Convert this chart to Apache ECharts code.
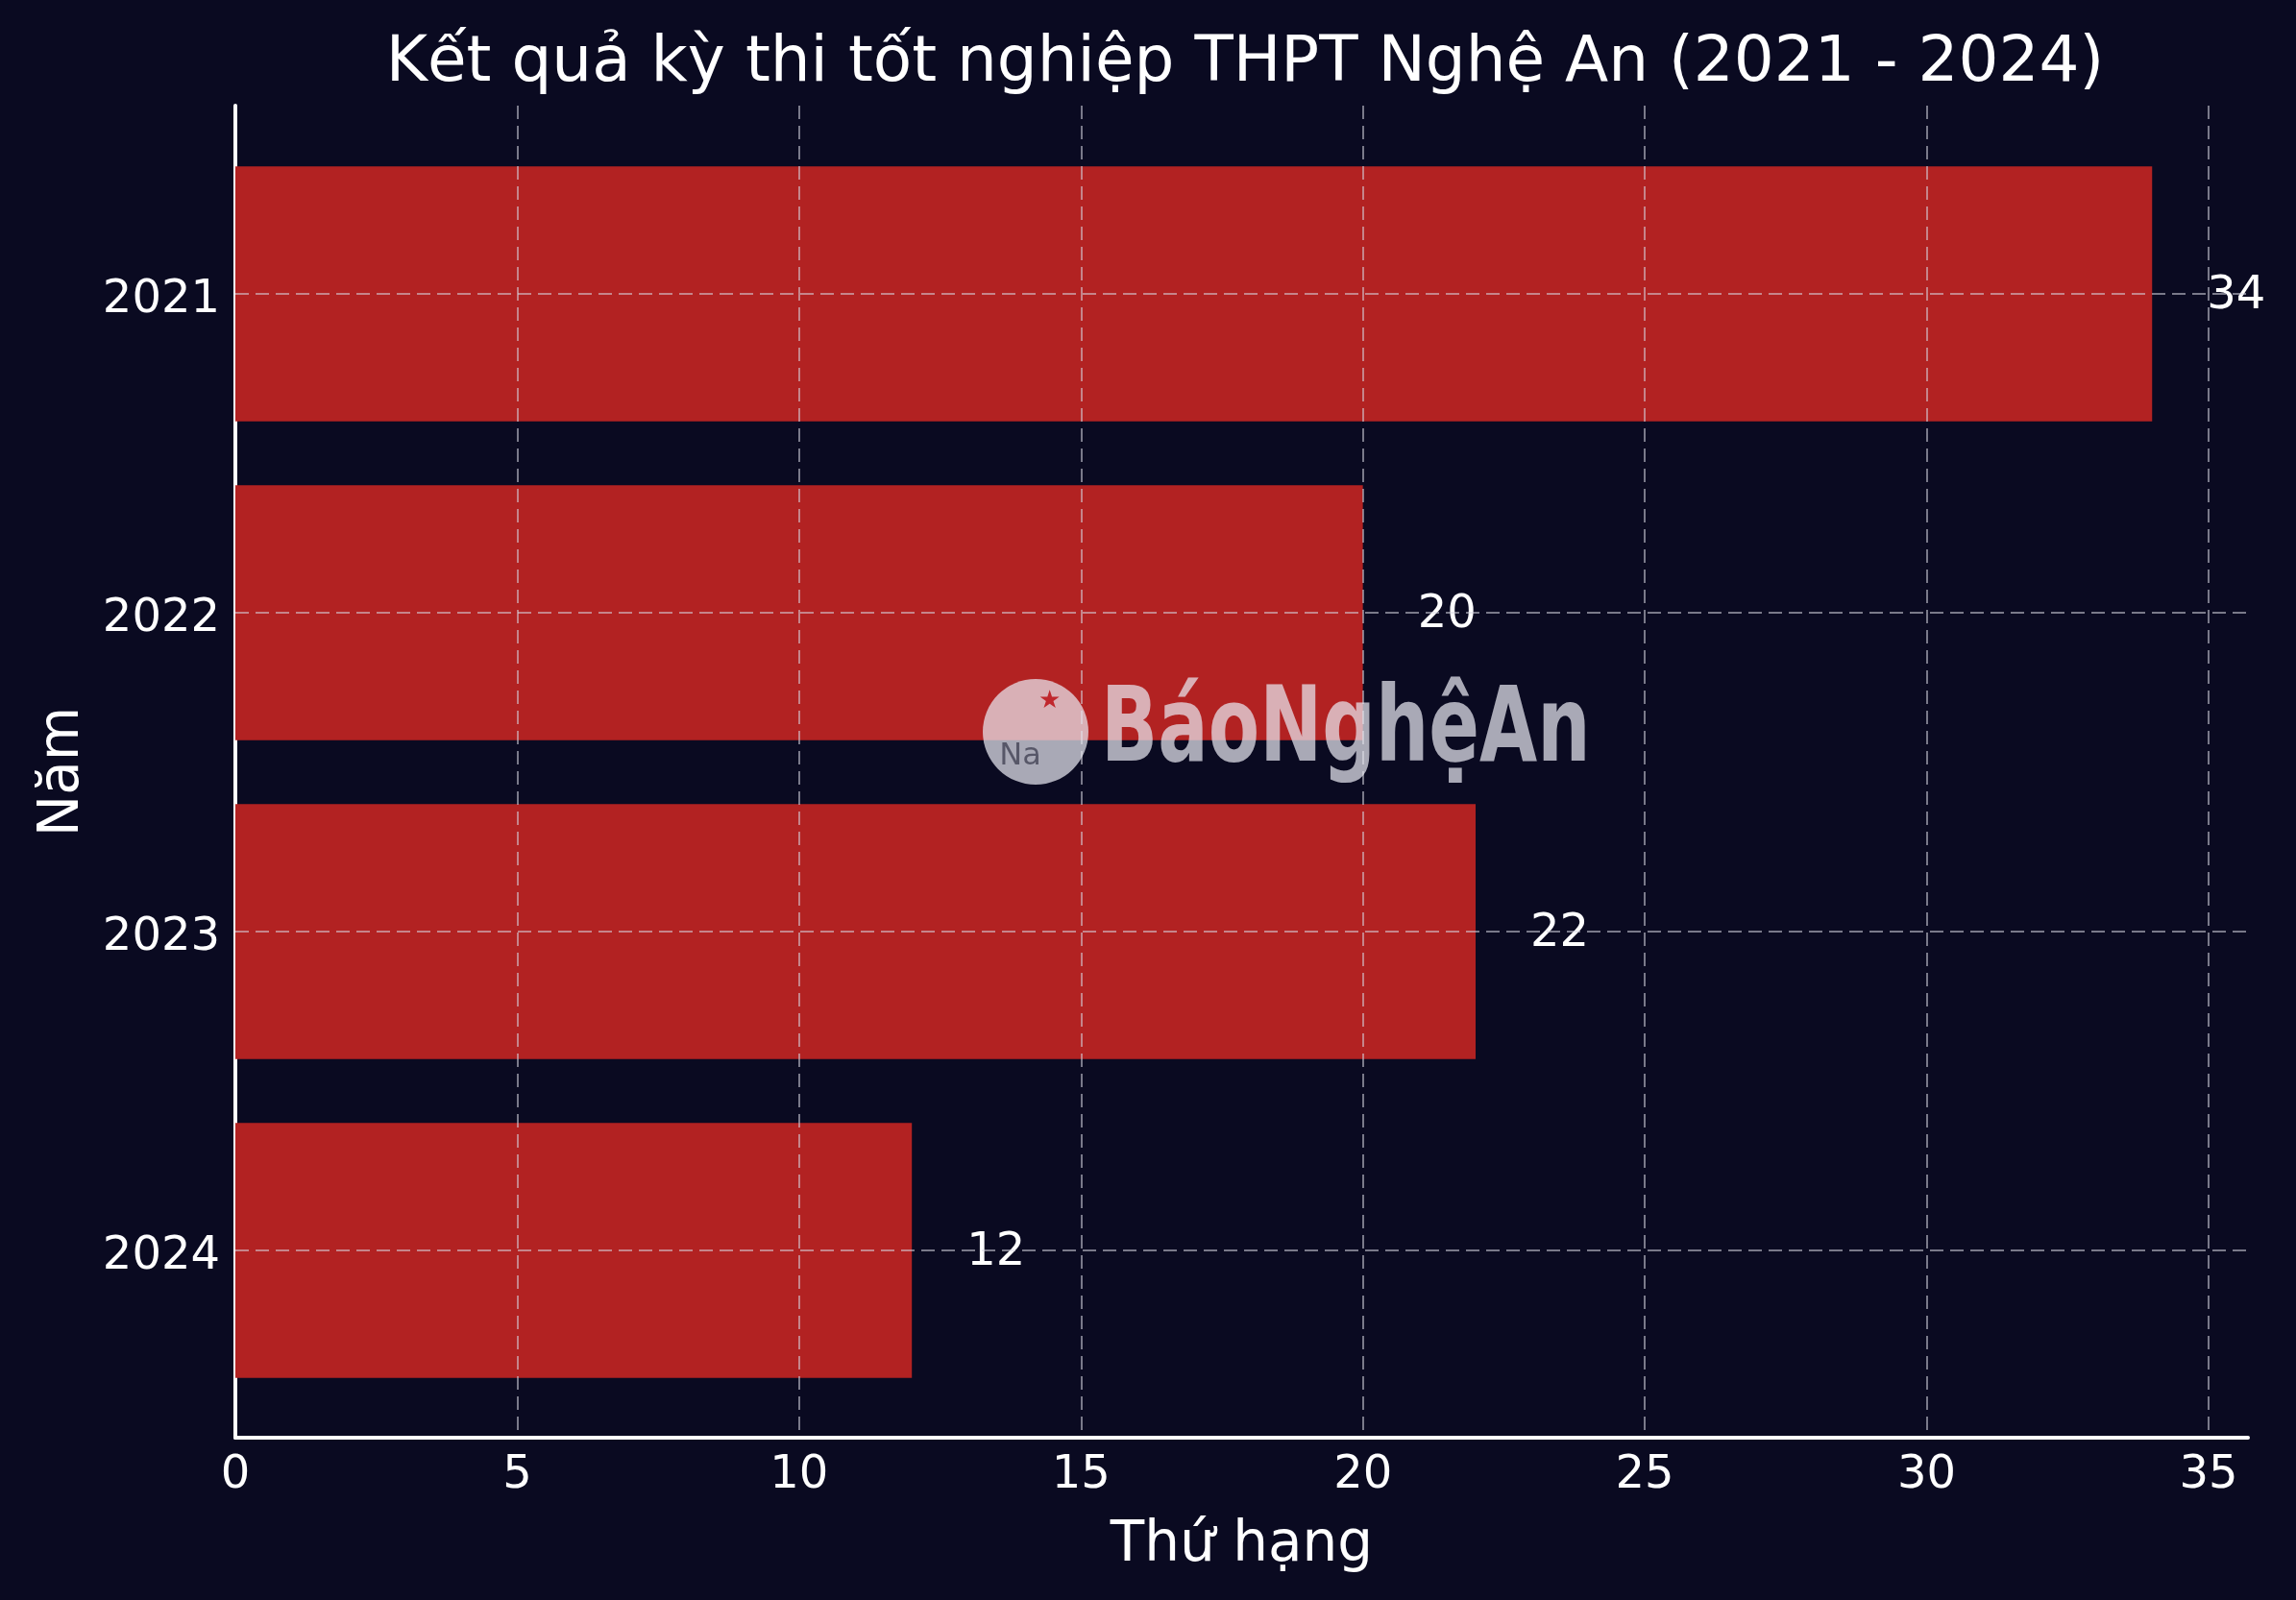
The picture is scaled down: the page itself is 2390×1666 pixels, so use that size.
<!DOCTYPE html>
<html>
<head>
<meta charset="utf-8">
<script src="https://cdn.jsdelivr.net/npm/echarts@6/dist/echarts.min.js"></script>
<style>
html,body{margin:0;padding:0;background:#0a0a21;}
#chart{width:2390px;height:1666px;}
</style>
</head>
<body>
<div id="chart"></div>
<script>
const years = ['2021', '2022', '2023', '2024'];
const ranks = [34, 20, 22, 12];
const xTicks = { min: 0, max: 35.7, interval: 5 };
const titleText = 'Kết quả kỳ thi tốt nghiệp THPT Nghệ An (2021 - 2024)';
const xName = 'Thứ hạng';
const yName = 'Năm';
const watermark = 'BáoNghệAn';

const FONT = "'DejaVu Sans', sans-serif";
const gridLine = { color: 'rgba(215,215,225,0.55)', width: 2, type: [14, 7] };

const chart = echarts.init(document.getElementById('chart'), null, { renderer: 'canvas' });
chart.setOption({
  backgroundColor: '#0a0a21',
  animation: false,
  title: {
    text: titleText,
    left: 1291,
    top: 29,
    textAlign: 'center',
    textStyle: { color: '#ffffff', fontSize: 66, fontWeight: 'normal', fontFamily: FONT }
  },
  grid: [
    { left: 245, right: 50, top: 140, bottom: 198 },
    { left: 245, right: 50, top: 110, bottom: 169 }
  ],
  xAxis: [
    { gridIndex: 0, type: 'value', min: xTicks.min, max: xTicks.max, show: false },
    {
      gridIndex: 1, type: 'value', min: xTicks.min, max: xTicks.max, interval: xTicks.interval,
      z: 5,
      axisLine: { show: true, lineStyle: { color: '#ffffff', width: 4 } },
      axisTick: { show: false },
      axisLabel: { color: '#ffffff', fontSize: 48, fontFamily: FONT, margin: 16, showMaxLabel: false },
      splitLine: { show: true, showMinLine: false, showMaxLine: false, lineStyle: gridLine },
      name: xName, nameLocation: 'middle', nameGap: 84,
      nameTextStyle: { color: '#ffffff', fontSize: 58, fontFamily: FONT }
    }
  ],
  yAxis: [
    {
      gridIndex: 0, type: 'category', data: years, inverse: true,
      axisLine: { show: false }, axisTick: { show: false },
      axisLabel: {
        margin: 16,
        formatter: v => '{a|' + v + '}',
        rich: { a: { color: '#ffffff', fontSize: 48, fontFamily: FONT, padding: [14, 0, 0, 0] } }
      },
      splitLine: { show: false }
    },
    {
      gridIndex: 1, type: 'value', min: 0, max: 1,
      axisLine: { show: true, onZero: false, lineStyle: { color: '#ffffff', width: 4 } },
      axisTick: { show: false }, axisLabel: { show: false }, splitLine: { show: false },
      name: yName, nameLocation: 'middle', nameGap: 150, nameRotate: 90,
      nameTextStyle: { color: '#ffffff', fontSize: 58, fontFamily: FONT }
    }
  ],
  series: [{
    type: 'bar',
    xAxisIndex: 0, yAxisIndex: 0,
    data: ranks,
    barCategoryGap: '20%',
    itemStyle: { color: '#b22222' },
    label: {
      show: true, position: 'right', distance: 57, offset: [0, 3],
      color: '#ffffff', fontSize: 48, fontFamily: FONT
    },
    markLine: {
      silent: true, symbol: 'none',
      label: { show: false },
      lineStyle: gridLine,
      data: years.map(y => ({ yAxis: y }))
    }
  }],
  graphic: [
    { type: 'circle', z: 100, shape: { cx: 1078, cy: 762, r: 55 }, style: { fill: 'rgba(232,232,240,0.72)' } },
    { type: 'text', z: 101, style: { x: 1092, y: 730, text: '★', fill: '#c0272d', fontSize: 26, textAlign: 'center', textVerticalAlign: 'middle' } },
    { type: 'text', z: 101, style: { x: 1062, y: 788, text: 'Na', fill: 'rgba(20,20,40,0.55)', fontSize: 32, fontFamily: FONT, textAlign: 'center', textVerticalAlign: 'middle' } },
    {
      type: 'text', z: 100,
      x: 1146, y: 764, scaleX: 0.72,
      style: {
        x: 0, y: 0, text: watermark,
        fill: 'rgba(232,232,240,0.72)',
        font: "bold 108px 'DejaVu Sans', sans-serif",
        textAlign: 'left', textVerticalAlign: 'middle'
      }
    }
  ]
});
</script>
</body>
</html>
